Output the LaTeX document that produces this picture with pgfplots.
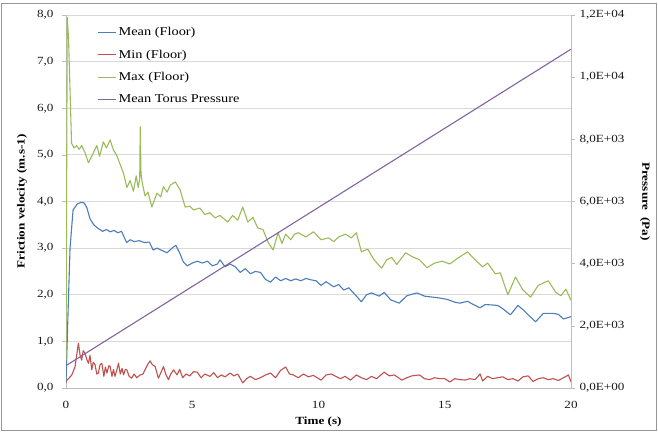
\documentclass[border=0pt]{standalone}
\usepackage{pgfplots}
\pgfplotsset{compat=1.18}
\usepackage{fontspec}
\setmainfont{Liberation Serif}[FakeStretch=1.2]
\definecolor{cmean}{RGB}{74,126,187}
\definecolor{cmin}{RGB}{192,80,77}
\definecolor{cmax}{RGB}{155,187,89}
\definecolor{cpres}{RGB}{128,100,162}
\definecolor{cgrid}{RGB}{217,217,217}
\definecolor{caxis}{RGB}{190,190,190}
\definecolor{cframe}{RGB}{150,150,150}
\begin{document}
\begin{tikzpicture}
\useasboundingbox (-66bp,-46bp) rectangle (592bp,388bp);
\draw[cframe, line width=1bp] (-64bp,-42bp) rectangle (590bp,384bp);
\begin{axis}[
  at={(0,0)}, anchor=south west,
  scale only axis, width=505bp, height=373bp,
  xmin=0, xmax=20, ymin=0, ymax=8,
  axis lines*=left,
  axis line style={caxis, line width=0.8bp},
  xtick={0,5,10,15,20}, xticklabels={0,5,10,15,20},
  ytick={0,1,2,3,4,5,6,7,8},
  yticklabels={{0,0},{1,0},{2,0},{3,0},{4,0},{5,0},{6,0},{7,0},{8,0}},
  ymajorgrids, grid style={cgrid, line width=0.8bp},
  xtick style={draw=none},
  ytick style={caxis, line width=0.6bp}, tick align=outside, major tick length=4bp,
  tick label style={font=\fontsize{11}{13}\selectfont, text=black!90},
  yticklabel style={xshift=-5bp},
  xticklabel style={yshift=-6bp},
  xlabel={\textbf{Time (s)}},
  ylabel={\textbf{Friction velocity (m.s-1)}},
  label style={font=\fontsize{11}{13}\selectfont},
  xlabel style={at={(axis description cs:0.5,-0.0912)}, anchor=center},
  ylabel style={at={(axis description cs:-0.0871,0.5)}, anchor=center},
  every axis plot/.append style={line width=1.1bp, line join=round},
]
\addplot[cmean] coordinates {
(0,0.1) (0.08,1.6) (0.16,3.0) (0.28,3.82) (0.45,3.95) (0.6,3.98) (0.72,3.97) (0.83,3.86) (0.95,3.63)
(1.1,3.5) (1.25,3.43) (1.45,3.36) (1.6,3.4) (1.75,3.35) (1.9,3.38) (2.05,3.33) (2.2,3.36) (2.4,3.12)
(2.55,3.18) (2.7,3.14) (2.9,3.16) (3.1,3.12) (3.3,3.13) (3.45,2.96) (3.6,3.0) (3.8,2.95) (4.0,2.9)
(4.2,3.0) (4.35,3.06) (4.5,2.9) (4.65,2.7) (4.8,2.62) (5.0,2.68) (5.2,2.72) (5.4,2.68) (5.6,2.72)
(5.8,2.62) (6.0,2.66) (6.1,2.75) (6.3,2.6) (6.5,2.66) (6.7,2.6) (6.9,2.48) (7.1,2.56) (7.3,2.45)
(7.5,2.5) (7.7,2.48) (7.9,2.33) (8.1,2.27) (8.3,2.38) (8.5,2.3) (8.7,2.35) (8.9,2.3) (9.1,2.34)
(9.3,2.3) (9.5,2.35) (9.7,2.32) (9.9,2.3) (10.1,2.2) (10.3,2.28) (10.6,2.17) (10.8,2.22) (11.0,2.1)
(11.2,2.15) (11.4,2.03) (11.7,1.85) (11.9,2.0) (12.1,2.04) (12.4,1.97) (12.6,2.05) (12.86,1.89)
(13.2,1.82) (13.5,1.98) (13.9,2.04) (14.2,1.97) (14.5,1.95) (14.8,1.93) (15.1,1.9) (15.4,1.84)
(15.6,1.82) (15.9,1.86) (16.1,1.8) (16.4,1.72) (16.6,1.79) (16.9,1.78) (17.1,1.77) (17.3,1.7)
(17.6,1.57) (17.9,1.77) (18.1,1.68) (18.3,1.57) (18.6,1.42) (18.9,1.6) (19.3,1.6) (19.5,1.58)
(19.7,1.48) (20,1.53)
};
\addplot[cmin] coordinates {
(0,0.15) (0.1,0.2) (0.23,0.28) (0.36,0.46) (0.49,0.96) (0.56,0.7) (0.62,0.6) (0.68,0.8) (0.75,0.75)
(0.82,0.62) (0.89,0.53) (0.95,0.7) (1.02,0.39) (1.08,0.55) (1.15,0.5) (1.22,0.3) (1.28,0.32)
(1.35,0.5) (1.42,0.53) (1.5,0.25) (1.56,0.45) (1.62,0.32) (1.7,0.48) (1.75,0.46) (1.82,0.25)
(1.88,0.4) (1.94,0.25) (2.02,0.4) (2.08,0.53) (2.15,0.3) (2.22,0.42) (2.28,0.28) (2.35,0.4)
(2.41,0.39) (2.5,0.25) (2.6,0.21) (2.7,0.3) (2.8,0.22) (2.94,0.28) (3.05,0.3) (3.13,0.39)
(3.25,0.52) (3.33,0.58) (3.42,0.5) (3.53,0.46) (3.66,0.21) (3.75,0.32) (3.86,0.46) (3.95,0.3)
(4.06,0.18) (4.15,0.3) (4.26,0.39) (4.4,0.28) (4.5,0.4) (4.62,0.22) (4.75,0.3) (4.9,0.26)
(5.05,0.35) (5.2,0.34) (5.35,0.22) (5.5,0.3) (5.7,0.25) (5.85,0.33) (6.0,0.22) (6.15,0.28)
(6.3,0.24) (6.5,0.32) (6.65,0.26) (6.8,0.3) (7.0,0.11) (7.15,0.2) (7.3,0.25) (7.5,0.18) (7.7,0.22)
(7.9,0.28) (8.1,0.32) (8.3,0.22) (8.5,0.38) (8.7,0.45) (8.85,0.3) (9.0,0.28) (9.2,0.22) (9.4,0.3)
(9.6,0.24) (9.8,0.27) (10.1,0.17) (10.3,0.28) (10.5,0.3) (10.87,0.2) (11.05,0.25) (11.27,0.17)
(11.5,0.28) (11.7,0.22) (11.9,0.18) (12.1,0.25) (12.3,0.2) (12.6,0.34) (12.8,0.26) (13.0,0.28)
(13.3,0.17) (13.5,0.22) (13.7,0.26) (14.0,0.28) (14.2,0.2) (14.4,0.18) (14.6,0.22) (14.8,0.2)
(15.0,0.2) (15.2,0.13) (15.4,0.2) (15.6,0.18) (15.8,0.17) (16.0,0.2) (16.2,0.18) (16.4,0.3)
(16.5,0.15) (16.7,0.25) (16.9,0.2) (17.1,0.22) (17.3,0.24) (17.5,0.18) (17.7,0.2) (17.9,0.15)
(18.1,0.24) (18.3,0.26) (18.5,0.14) (18.7,0.2) (18.9,0.22) (19.1,0.18) (19.3,0.2) (19.5,0.16)
(19.7,0.22) (19.9,0.28) (20,0.13)
};
\addplot[cmax] coordinates {
(0,0.6) (0.05,7.95) (0.1,7.5) (0.22,5.25) (0.32,5.15) (0.42,5.2) (0.52,5.12) (0.62,5.2) (0.75,5.05)
(0.89,4.83) (1.0,4.95) (1.08,5.04) (1.22,5.2) (1.33,4.97) (1.48,5.28) (1.6,5.15) (1.75,5.32)
(1.88,5.1) (2.0,5.0) (2.12,4.83) (2.28,4.6) (2.41,4.3) (2.54,4.45) (2.67,4.22) (2.78,4.55)
(2.86,4.3) (2.92,4.5) (2.94,5.6) (2.97,4.6) (3.02,4.4) (3.13,4.12) (3.25,4.2) (3.4,3.88) (3.6,4.18)
(3.75,4.1) (3.86,4.32) (4.0,4.2) (4.13,4.35) (4.33,4.42) (4.52,4.25) (4.72,3.88) (4.9,3.9)
(5.05,3.82) (5.3,3.86) (5.5,3.72) (5.7,3.76) (5.9,3.65) (6.1,3.7) (6.4,3.56) (6.6,3.7) (6.8,3.6)
(7.0,3.88) (7.2,3.56) (7.4,3.66) (7.6,3.43) (7.8,3.4) (8.0,3.13) (8.2,2.96) (8.4,3.33) (8.55,3.1)
(8.7,3.3) (8.9,3.18) (9.05,3.3) (9.2,3.33) (9.5,3.24) (9.8,3.35) (10.1,3.18) (10.4,3.22)
(10.6,3.14) (10.8,3.24) (11.07,3.3) (11.3,3.22) (11.5,3.33) (11.7,2.92) (11.95,2.98) (12.2,2.75)
(12.5,2.57) (12.7,2.75) (12.9,2.8) (13.1,2.65) (13.45,2.9) (13.7,2.82) (14.0,2.75) (14.3,2.58)
(14.6,2.68) (14.9,2.72) (15.2,2.66) (15.5,2.78) (15.9,2.92) (16.2,2.75) (16.5,2.6) (16.7,2.68)
(17.0,2.45) (17.2,2.47) (17.5,2.0) (17.8,2.38) (18.1,2.1) (18.4,1.95) (18.7,2.2) (19.1,2.3)
(19.4,2.05) (19.6,1.98) (19.8,2.12) (20,1.88)
};
\end{axis}
\begin{axis}[
  at={(0,0)}, anchor=south west,
  scale only axis, width=505bp, height=373bp,
  xmin=0, xmax=20, ymin=0, ymax=12000,
  scaled y ticks=false,
  axis y line*=right, axis x line=none,
  axis line style={caxis, line width=0.8bp},
  ytick={0,2000,4000,6000,8000,10000,12000},
  yticklabels={{0,0E+00},{2,0E+03},{4,0E+03},{6,0E+03},{8,0E+03},{1,0E+04},{1,2E+04}},
  ytick style={caxis, line width=0.6bp}, tick align=outside, major tick length=4bp,
  tick label style={font=\fontsize{11}{13}\selectfont, text=black!90},
  yticklabel style={xshift=1bp},
  ylabel={\textbf{Pressure\ \ (Pa)}},
  label style={font=\fontsize{11}{13}\selectfont},
  ylabel style={at={(axis description cs:1.1465,0.5)}, anchor=center, rotate=180},
  legend style={at={(axis description cs:0.062,0.972)}, anchor=north west, draw=none, fill=none,
    font=\fontsize{12}{14}\selectfont, row sep=8.5bp, inner sep=0pt},
  legend cell align=left,
  legend image code/.code={\draw[#1] (0bp,0bp) -- (18bp,0bp);},
]
\addlegendimage{cmean, line width=1.1bp}
\addlegendentry{Mean (Floor)}
\addlegendimage{cmin, line width=1.1bp}
\addlegendentry{Min (Floor)}
\addlegendimage{cmax, line width=1.1bp}
\addlegendentry{Max (Floor)}
\addplot[cpres, line width=1.1bp] coordinates {
(0,720) (5,3265) (10,5810) (15,8355) (20,10900)
};
\addlegendentry{Mean Torus Pressure}
\end{axis}
\end{tikzpicture}
\end{document}
